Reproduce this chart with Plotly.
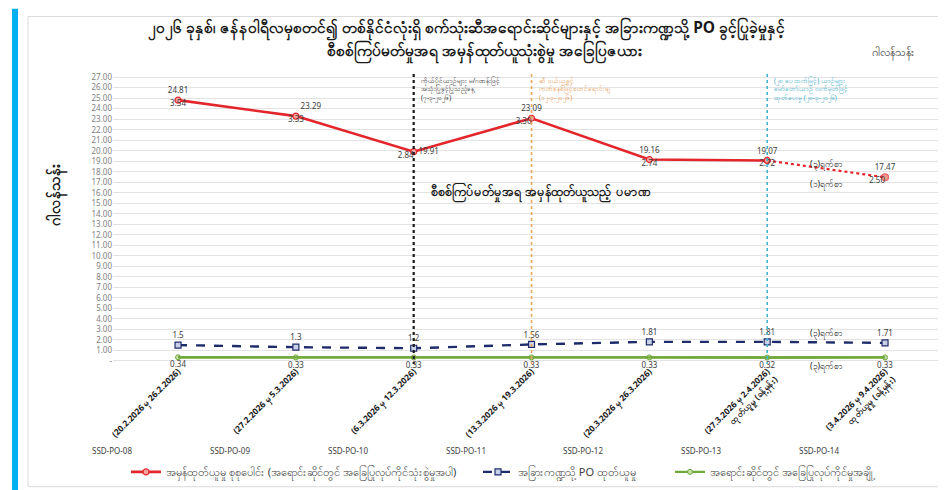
import plotly.graph_objects as go

# ---------------- data ----------------
periods = [
    "(20.2.2026 မှ 26.2.2026)",
    "(27.2.2026 မှ 5.3.2026)",
    "(6.3.2026 မှ 12.3.2026)",
    "(13.3.2026 မှ 19.3.2026)",
    "(20.3.2026 မှ 26.3.2026)",
    "(27.3.2026 မှ 2.4.2026)<br>ထုတ်ယူမှု (ခန့်မှန်း)",
    "(3.4.2026 မှ 9.4.2026)<br>ထုတ်ယူမှု (ခန့်မှန်း)",
]
po_codes = ["SSD-PO-08", "SSD-PO-09", "SSD-PO-10", "SSD-PO-11", "SSD-PO-12", "SSD-PO-13", "SSD-PO-14"]
actual_total = [24.81, 23.29, 19.91, 23.09, 19.16, 19.07, 17.47]
actual_daily = [3.54, 3.33, 2.84, 3.30, 2.74, 2.72, 2.50]
other_po = [1.5, 1.3, 1.2, 1.56, 1.81, 1.81, 1.71]
station_ops = [0.34, 0.33, 0.33, 0.33, 0.33, 0.32, 0.33]
y_ticks = list(range(0, 28))

FONT = "Noto Sans, DejaVu Sans, sans-serif"
RED = "#E3262B"
NAVY = "#1F2C6B"
GREEN = "#70A83B"

# plot area in pixels
L, R, T, B = 105, 935, 66, 359
W, H = R - L, B - T
X0_PX, STEP_PX = 170, 117.83
def px(x):
    return (x - L) / W
def py(y):
    return (B - y) / H

fig = go.Figure()

# green first (drawn underneath)
fig.add_trace(go.Scatter(
    x=list(range(len(periods))), y=station_ops, mode="lines",
    line=dict(color=GREEN, width=2.4, simplify=False),
    showlegend=False, hoverinfo="skip", xaxis="x2",
))
fig.add_trace(go.Scatter(
    x=periods, y=station_ops, mode="lines+markers+text",
    line=dict(color=GREEN, width=2.4, simplify=False),
    marker=dict(symbol="circle", size=5, color="#C8E0A8", line=dict(color=GREEN, width=1)),
    text=[f"{v:.2f}" for v in station_ops],
    textposition="bottom center",
    textfont=dict(size=8, color="#404040", family=FONT),
    name="အရောင်းဆိုင်တွင် အခြေပြုလုပ်ကိုင်မှုအချို့", legend="legend3", cliponaxis=False,
))
fig.add_trace(go.Scatter(
    x=periods, y=other_po, mode="lines+markers+text",
    line=dict(color=NAVY, width=2.4, dash="dash"),
    marker=dict(symbol="square", size=6, color="#C9D0EA", line=dict(color=NAVY, width=1.2)),
    text=[f"{v:g}" for v in other_po],
    textposition="top center",
    textfont=dict(size=8, color="#404040", family=FONT),
    name="အခြားကဏ္ဍသို့ PO ထုတ်ယူမှု", legend="legend2", cliponaxis=False,
))

n_solid = 6
fig.add_trace(go.Scatter(
    x=periods[:n_solid], y=actual_total[:n_solid], mode="lines+markers+text",
    line=dict(color=RED, width=2.6),
    marker=dict(symbol="circle", size=6, color="#F4A3A0", line=dict(color=RED, width=1.2)),
    text=[f"{v:.2f}" for v in actual_total[:n_solid]],
    textposition=["top center", "top right", "middle right", "top center", "top center", "top center"],
    textfont=dict(size=8, color="#404040", family=FONT),
    name="အမှန်ထုတ်ယူမှု စုစုပေါင်း (အရောင်းဆိုင်တွင် အခြေပြုလုပ်ကိုင်သုံးစွဲမှုအပါ)",
    legendgroup="red", showlegend=True, legend="legend", cliponaxis=False,
))
fig.add_trace(go.Scatter(
    x=periods[n_solid - 1:], y=actual_total[n_solid - 1:], mode="lines+markers+text",
    line=dict(color=RED, width=2.2, dash="dot"),
    marker=dict(symbol="circle", size=[6, 7], color=["#F4A3A0", "#F07060"], line=dict(color=RED, width=1.2)),
    text=["", f"{actual_total[-1]:.2f}"],
    textposition="top center",
    textfont=dict(size=8, color="#404040", family=FONT),
    legendgroup="red", showlegend=False, cliponaxis=False,
))
fig.add_trace(go.Scatter(
    x=periods, y=actual_total, mode="text",
    text=[f"{v:.2f}" for v in actual_daily],
    textposition=["bottom center", "bottom center", "bottom left", "bottom left",
                  "bottom center", "bottom center", "bottom left"],
    textfont=dict(size=8, color="#404040", family=FONT),
    showlegend=False, hoverinfo="skip", cliponaxis=False,
))

shapes = [
    dict(type="rect", xref="paper", yref="paper", x0=px(4), x1=px(10), y0=py(490), y1=py(0),
         fillcolor="#00B0F0", line=dict(width=0), layer="below"),
    dict(type="rect", xref="paper", yref="paper", x0=px(20), x1=px(938), y0=py(483), y1=py(8),
         fillcolor="rgba(0,0,0,0)", line=dict(color="#D9D9D9", width=1), layer="below"),
]
for idx, col, w in [(2, "#1a1a1a", 2.2), (3, "#F0A55A", 1.6), (5, "#3FB5D0", 1.6)]:
    shapes.append(dict(type="line", xref="x", yref="y", x0=idx, x1=idx, y0=-0.4, y1=27.3,
                       line=dict(color=col, width=w, dash="dot")))

def ann(text, x, y, size, color="#1a1a1a", **kw):
    d = dict(text=text, xref="paper", yref="paper", x=px(x), y=py(y), showarrow=False,
             xanchor="center", yanchor="middle", font=dict(size=size, color=color, family=FONT))
    d.update(kw)
    return d

annotations = [
    ann("<b>၂၀၂၆ ခုနှစ်၊ ဇန်နဝါရီလမှစတင်၍ တစ်နိုင်ငံလုံးရှိ စက်သုံးဆီအရောင်းဆိုင်များနှင့် အခြားကဏ္ဍသို့ PO ခွင့်ပြုခဲ့မှုနှင့်</b>",
        458, 20, 15.5),
    ann("<b>စီစစ်ကြပ်မတ်မှုအရ အမှန်ထုတ်ယူသုံးစွဲမှု အခြေပြဇယား</b>", 476, 43, 15.5),
    ann("ဂါလန်သန်း", 885, 44, 11),
    ann("<b>ဂါလန်သန်း</b>", 48, 188, 15, textangle=-90),
    ann("<b>စီစစ်ကြပ်မတ်မှုအရ အမှန်ထုတ်ယူသည့် ပမာဏ</b>", 420, 186, 12.5, xanchor="left"),
    ann("(၃)ရက်စာ", 818, 157, 8.5),
    ann("(၁)ရက်စာ", 818, 178, 8.5),
    ann("(၃)ရက်စာ", 818, 328, 8.5),
    ann("(၃)ရက်စာ", 818, 362, 8.5),
]
notes = [
    (2, "ကိုယ်ပိုင်ယာဉ်များ မ/ဂဏန်းဖြင့်<br>အသုံးပြုခွင့်ပြုသည့်နေ့<br>(၇-၃-၂၀၂၆)", "#1a1a1a"),
    (3, "ဆီ ဝယ်ယူခွင့်<br>ကတ်စနစ်ဖြင့်စတင်ရောင်းချ<br>(၁၂-၃-၂၀၂၆)", "#E8954A"),
    (5, "(၂၈ ပေ ထက်မြင့်) ယာဉ်များ<br>မော်တော်ယာဉ် လက်မှတ်ဖြင့်<br>ထုတ်ပေးမှု (၂၈-၃-၂၀၂၆)", "#2AA5C4"),
]
for idx, txt, col in notes:
    annotations.append(dict(text=txt, xref="x", yref="paper", x=idx, xshift=5, y=py(66),
                            xanchor="left", yanchor="top", align="left", showarrow=False,
                            font=dict(size=6.5, color=col, family=FONT)))
for i, code in enumerate(po_codes):
    annotations.append(ann(code, X0_PX + (i - 0.56) * STEP_PX, 446, 8, "#404040"))

leg_common = dict(orientation="h", yanchor="middle", xanchor="left",
                  font=dict(size=11, color="#404040", family=FONT),
                  bgcolor="rgba(0,0,0,0)", itemwidth=30)
fig.update_layout(
    width=946, height=490,
    margin=dict(l=L, r=946 - R, t=T, b=490 - B),
    paper_bgcolor="white", plot_bgcolor="white",
    font=dict(family=FONT),
    shapes=shapes, annotations=annotations,
    legend=dict(x=px(118), y=py(468), **leg_common),
    legend2=dict(x=px(470), y=py(468), **leg_common),
    legend3=dict(x=px(662), y=py(468), **leg_common),
    xaxis=dict(type="category", categoryorder="array", categoryarray=periods,
               range=[-0.552, 6.492], showgrid=False, zeroline=False, showline=False,
               tickangle=-45, tickfont=dict(size=8.5, color="#1a1a1a", family=FONT), ticks="",
               tickvals=periods,
               ticktext=[f"<b>{p}</b>".replace("<br>", "</b><br><b>") for p in periods]),
    xaxis2=dict(range=[-0.552, 6.492], overlaying="x", visible=False),
    yaxis=dict(range=[-0.3, 27.3], tickvals=y_ticks,
               ticktext=["-"] + [f"{v:.2f}" for v in y_ticks[1:]],
               showgrid=True, gridcolor="#E3E3E3", gridwidth=1, zeroline=False, showline=False,
               tickfont=dict(size=8, color="#7F7F7F", family=FONT), ticks=""),
)

fig.write_html("out.html")
